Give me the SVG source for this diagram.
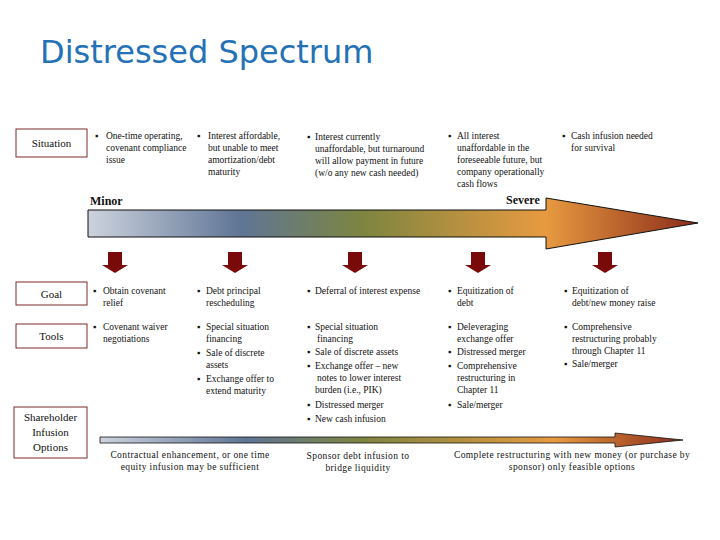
<svg xmlns="http://www.w3.org/2000/svg" width="720" height="540" viewBox="0 0 720 540" font-family="'Liberation Serif','Times New Roman',serif">
<style>
text{font-family:'Liberation Serif','Times New Roman',serif}
.t{font-size:9.5px;fill:#111}
.lb{font-size:11px;fill:#111;text-anchor:middle}
.box{fill:#fff;stroke:#7a2a2a;stroke-width:1}
.b{font-size:12px;font-weight:bold;fill:#111}
.bt{font-size:9.5px;fill:#111;text-anchor:middle;letter-spacing:0.4px}
.dn{fill:#7a0a0a}
.ttl{font-family:'DejaVu Sans','Open Sans',sans-serif;font-size:32px;fill:#2471b5}
</style>
<defs>
<linearGradient id="g" x1="88" y1="0" x2="698" y2="0" gradientUnits="userSpaceOnUse">
<stop offset="0" stop-color="#cdd3de"/><stop offset="0.25" stop-color="#5f7595"/><stop offset="0.45" stop-color="#7d8540"/><stop offset="0.75" stop-color="#e89a40"/><stop offset="1" stop-color="#8a2a1a"/>
</linearGradient>
<linearGradient id="g2" x1="100" y1="0" x2="683" y2="0" gradientUnits="userSpaceOnUse">
<stop offset="0" stop-color="#cdd3de"/><stop offset="0.25" stop-color="#5f7595"/><stop offset="0.45" stop-color="#7d8540"/><stop offset="0.78" stop-color="#e89a40"/><stop offset="1" stop-color="#8a2a1a"/>
</linearGradient>
<path id="da" d="M-7,0 H7 V13 H13 L0,21 L-13,13 H-7 Z"/>
</defs>
<text class="ttl" x="40" y="63">Distressed Spectrum</text>

<g id="labels">
<g id="situation"><rect class="box" x="16" y="129" width="71" height="28"/><text class="lb" x="51.5" y="147">Situation</text></g>
<g id="goal"><rect class="box" x="16" y="282" width="71" height="23"/><text class="lb" x="51.5" y="298">Goal</text></g>
<g id="tools"><rect class="box" x="16" y="324" width="71" height="24"/><text class="lb" x="51.5" y="340">Tools</text></g>
<g id="shareholder"><rect class="box" x="14" y="407" width="73" height="51"/><text class="lb" x="50.5" y="421">Shareholder</text><text class="lb" x="50.5" y="436">Infusion</text><text class="lb" x="50.5" y="451">Options</text></g>
</g>

<g id="connectors">
<path d="M88,210 H546 V198 L698,223 L546,249 V237 H88 Z" fill="url(#g)" stroke="#111" stroke-width="1"/>
<path d="M100,437 H615 V433 L683,440 L615,447 V443 H100 Z" fill="url(#g2)" stroke="#111" stroke-width="0.8"/>
<use href="#da" x="115" y="252" class="dn"/>
<use href="#da" x="235" y="252" class="dn"/>
<use href="#da" x="355" y="252" class="dn"/>
<use href="#da" x="478" y="252" class="dn"/>
<use href="#da" x="605" y="252" class="dn"/>
</g>

<text class="b" x="90" y="205">Minor</text>
<text class="b" x="506" y="204">Severe</text>

<g id="situation-text" class="t">
<text x="95" y="139">▪</text><text x="106" y="139">One-time operating,</text><text x="106" y="151">covenant compliance</text><text x="106" y="163">issue</text>
<text x="197" y="139">▪</text><text x="208" y="139">Interest affordable,</text><text x="208" y="151">but unable to meet</text><text x="208" y="163">amortization/debt</text><text x="208" y="175">maturity</text>
<text x="307" y="140">▪</text><text x="315" y="140">Interest currently</text><text x="315" y="152">unaffordable, but turnaround</text><text x="315" y="164">will allow payment in future</text><text x="315" y="176">(w/o any new cash needed)</text>
<text x="448" y="139">▪</text><text x="457" y="139">All interest</text><text x="457" y="151">unaffordable in the</text><text x="457" y="163">foreseeable future, but</text><text x="457" y="175">company operationally</text><text x="457" y="187">cash flows</text>
<text x="562" y="139">▪</text><text x="571" y="139">Cash infusion needed</text><text x="571" y="151">for survival</text>
</g>

<g id="goal-text" class="t">
<text x="93" y="294">▪</text><text x="103" y="294">Obtain covenant</text><text x="103" y="306">relief</text>
<text x="197" y="294">▪</text><text x="206" y="294">Debt principal</text><text x="206" y="306">rescheduling</text>
<text x="307" y="294">▪</text><text x="315" y="294">Deferral of interest expense</text>
<text x="448" y="294">▪</text><text x="457" y="294">Equitization of</text><text x="457" y="306">debt</text>
<text x="564" y="294">▪</text><text x="572" y="294">Equitization of</text><text x="572" y="306">debt/new money raise</text>
</g>

<g id="tools-text" class="t">
<text x="93" y="330">▪</text><text x="103" y="330">Covenant waiver</text><text x="103" y="342">negotiations</text>
<text x="197" y="330">▪</text><text x="206" y="330">Special situation</text><text x="206" y="342">financing</text>
<text x="197" y="356">▪</text><text x="206" y="356">Sale of discrete</text><text x="206" y="368">assets</text>
<text x="197" y="382">▪</text><text x="206" y="382">Exchange offer to</text><text x="206" y="394">extend maturity</text>
<text x="307" y="330">▪</text><text x="315" y="330">Special situation</text><text x="317" y="342">financing</text>
<text x="307" y="355">▪</text><text x="315" y="355">Sale of discrete assets</text>
<text x="307" y="369">▪</text><text x="315" y="369">Exchange offer – new</text><text x="317" y="381">notes to lower interest</text><text x="315" y="393">burden (i.e., PIK)</text>
<text x="307" y="408">▪</text><text x="315" y="408">Distressed merger</text>
<text x="307" y="422">▪</text><text x="315" y="422">New cash infusion</text>
<text x="448" y="330">▪</text><text x="457" y="330">Deleveraging</text><text x="457" y="342">exchange offer</text>
<text x="448" y="355">▪</text><text x="457" y="355">Distressed merger</text>
<text x="448" y="369">▪</text><text x="457" y="369">Comprehensive</text><text x="457" y="381">restructuring in</text><text x="457" y="393">Chapter 11</text>
<text x="448" y="408">▪</text><text x="457" y="408">Sale/merger</text>
<text x="564" y="330">▪</text><text x="572" y="330">Comprehensive</text><text x="572" y="342">restructuring probably</text><text x="572" y="354">through Chapter 11</text>
<text x="564" y="367">▪</text><text x="572" y="367">Sale/merger</text>
</g>

<g id="bottom-text">
<text class="bt" x="190" y="458">Contractual enhancement, or one time</text><text class="bt" x="190" y="470">equity infusion may be sufficient</text>
<text class="bt" x="358" y="459">Sponsor debt infusion to</text><text class="bt" x="358" y="471">bridge liquidity</text>
<text class="bt" x="572" y="458">Complete restructuring with new money (or purchase by</text><text class="bt" x="572" y="470">sponsor) only feasible options</text>
</g>
</svg>
